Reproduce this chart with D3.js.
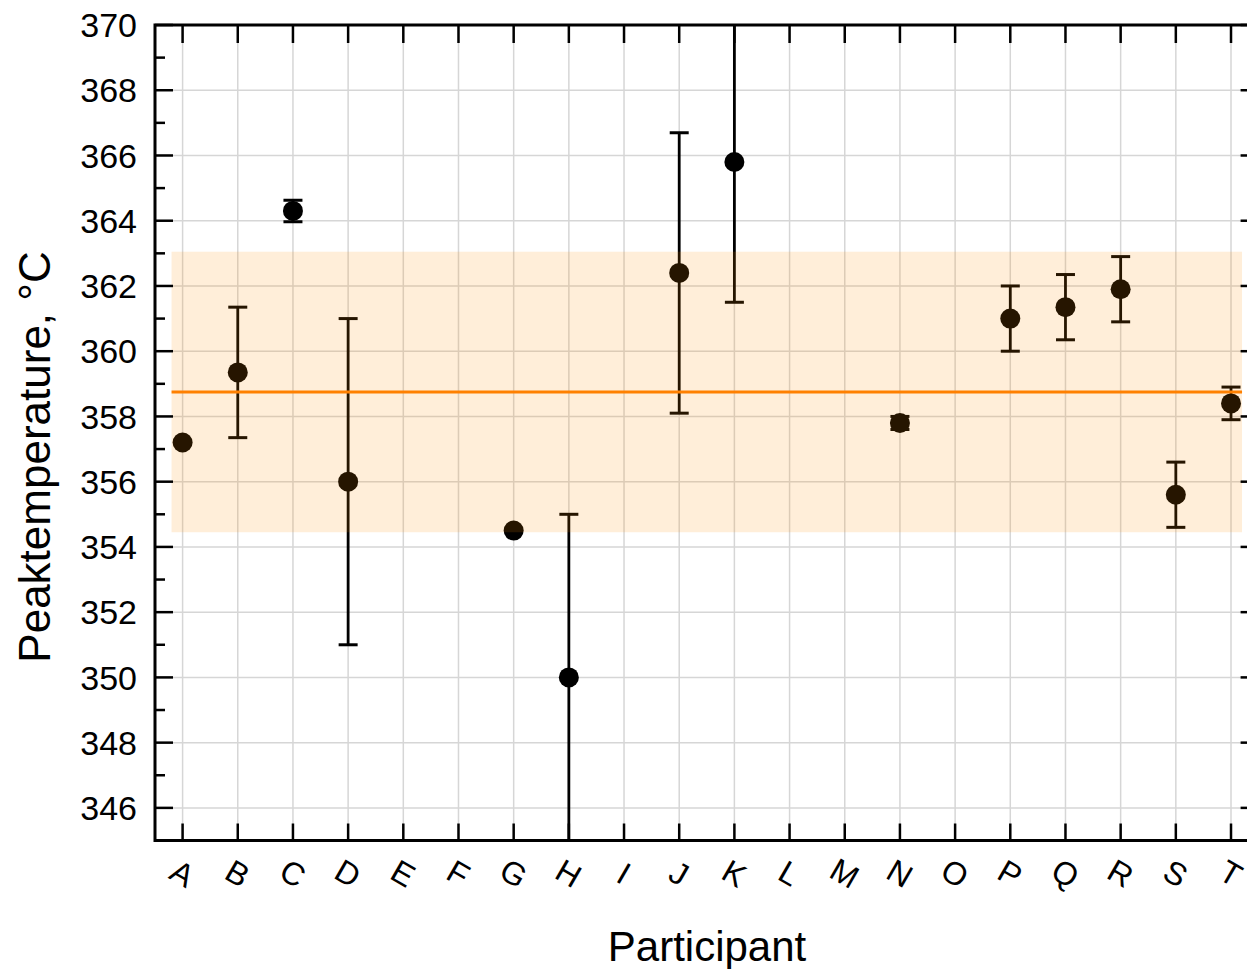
<!DOCTYPE html>
<html>
<head>
<meta charset="utf-8">
<script src="https://cdn.jsdelivr.net/npm/d3@7"></script>
<style>
  body { margin: 0; background: #fff; }
  text { font-family: Arial, "Liberation Sans", sans-serif; fill: #000; }
</style>
</head>
<body>
<div id="chart"></div>
<script>
// participants and their peak temperatures (°C) with error
var participants = ["A","B","C","D","E","F","G","H","I","J","K","L","M","N","O","P","Q","R","S","T"]
var peakValues  = [357.2, 359.35, 364.3, 356.0, null, null, 354.5, 350.0, null, 362.4, 365.8, null, null, 357.8, null, 361.0, 361.35, 361.9, 355.6, 358.4]
var peakErrors  = [0, 2.0, 0.33, 5.0, null, null, 0, 5.0, null, 4.3, 4.3, null, null, 0.2, null, 1.0, 1.0, 1.0, 1.0, 0.5]
var yMajorTicks = [346, 348, 350, 352, 354, 356, 358, 360, 362, 364, 366, 368, 370]
var yMinorTicks = [345, 347, 349, 351, 353, 355, 357, 359, 361, 363, 365, 367, 369]
var meanValue = 358.75
var bandLow = 354.45
var bandHigh = 363.05

var width = 1247
var height = 969
var plotLeft = 155, plotRight = 1258.6, plotTop = 25, plotBottom = 840.5

var data = participants.map(function(p, i){
  return { name: p, value: peakValues[i], err: peakErrors[i] }
}).filter(d => d.value != null)

var svg = d3.select("#chart")
  .append("svg")
    .attr("width", width)
    .attr("height", height)

var x = d3.scalePoint()
  .domain(participants)
  .range([plotLeft, plotRight])
  .padding(0.5)

var y = d3.scaleLinear()
  .domain([345, 370])
  .range([plotBottom, plotTop])

svg.append("clipPath").attr("id", "plotclip")
  .append("rect")
    .attr("x", plotLeft).attr("y", plotTop)
    .attr("width", plotRight - plotLeft).attr("height", plotBottom - plotTop)

// grid
var grid = svg.append("g")
grid.selectAll("vgrid")
  .data(participants)
  .enter().append("line")
    .attr("x1", d => x(d)).attr("x2", d => x(d))
    .attr("y1", plotTop).attr("y2", plotBottom)
    .attr("stroke", "#d6d6d6").attr("stroke-width", 1.5)
grid.selectAll("hgrid")
  .data(yMajorTicks.filter(v => v < 370))
  .enter().append("line")
    .attr("x1", plotLeft).attr("x2", plotRight)
    .attr("y1", d => y(d)).attr("y2", d => y(d))
    .attr("stroke", "#d6d6d6").attr("stroke-width", 1.5)

// error bars and points
var plot = svg.append("g").attr("clip-path", "url(#plotclip)")
var withErr = data.filter(d => d.err > 0)
plot.selectAll("stem")
  .data(withErr)
  .enter().append("line")
    .attr("x1", d => x(d.name)).attr("x2", d => x(d.name))
    .attr("y1", d => y(d.value + d.err)).attr("y2", d => y(d.value - d.err))
    .attr("stroke", "#000").attr("stroke-width", 2.8)
plot.selectAll("capTop")
  .data(withErr)
  .enter().append("line")
    .attr("x1", d => x(d.name) - 9.5).attr("x2", d => x(d.name) + 9.5)
    .attr("y1", d => y(d.value + d.err)).attr("y2", d => y(d.value + d.err))
    .attr("stroke", "#000").attr("stroke-width", 3)
plot.selectAll("capBottom")
  .data(withErr)
  .enter().append("line")
    .attr("x1", d => x(d.name) - 9.5).attr("x2", d => x(d.name) + 9.5)
    .attr("y1", d => y(d.value - d.err)).attr("y2", d => y(d.value - d.err))
    .attr("stroke", "#000").attr("stroke-width", 3)
plot.selectAll("dot")
  .data(data)
  .enter().append("circle")
    .attr("cx", d => x(d.name))
    .attr("cy", d => y(d.value))
    .attr("r", 10)
    .attr("fill", "#000")

// shaded band and mean line
var step = x.step()
svg.append("rect")
  .attr("x", x("A") - 0.2 * step)
  .attr("width", x("T") - x("A") + 0.4 * step)
  .attr("y", y(bandHigh))
  .attr("height", y(bandLow) - y(bandHigh))
  .attr("fill", "#ff8c00")
  .attr("fill-opacity", 0.15)
svg.append("line")
  .attr("x1", x("A") - 0.2 * step).attr("x2", x("T") + 0.2 * step)
  .attr("y1", y(meanValue)).attr("y2", y(meanValue))
  .attr("stroke", "#ff8000").attr("stroke-width", 3.2)

// axes frame
var axes = svg.append("g").attr("stroke", "#000")
axes.append("rect")
  .attr("x", plotLeft).attr("y", plotTop)
  .attr("width", plotRight - plotLeft).attr("height", plotBottom - plotTop)
  .attr("fill", "none").attr("stroke-width", 3)

axes.selectAll("ytickL")
  .data(yMajorTicks)
  .enter().append("line")
    .attr("x1", plotLeft).attr("x2", plotLeft + 18)
    .attr("y1", d => y(d)).attr("y2", d => y(d))
    .attr("stroke-width", 2.5)
axes.selectAll("ytickLm")
  .data(yMinorTicks)
  .enter().append("line")
    .attr("x1", plotLeft).attr("x2", plotLeft + 10)
    .attr("y1", d => y(d)).attr("y2", d => y(d))
    .attr("stroke-width", 2.5)
axes.selectAll("ytickR")
  .data(yMajorTicks)
  .enter().append("line")
    .attr("x1", plotRight).attr("x2", plotRight - 18)
    .attr("y1", d => y(d)).attr("y2", d => y(d))
    .attr("stroke-width", 2.5)
axes.selectAll("xtickB")
  .data(participants)
  .enter().append("line")
    .attr("x1", d => x(d)).attr("x2", d => x(d))
    .attr("y1", plotBottom).attr("y2", plotBottom - 17)
    .attr("stroke-width", 2.5)
axes.selectAll("xtickT")
  .data(participants)
  .enter().append("line")
    .attr("x1", d => x(d)).attr("x2", d => x(d))
    .attr("y1", plotTop).attr("y2", plotTop + 18)
    .attr("stroke-width", 2.5)

// tick labels
svg.selectAll("ylabel")
  .data(yMajorTicks)
  .enter().append("text")
    .attr("x", plotLeft - 18)
    .attr("y", d => y(d))
    .attr("dy", "0.36em")
    .attr("text-anchor", "end")
    .style("font-size", "34px")
    .text(d => d)

svg.selectAll("xlabel")
  .data(participants)
  .enter().append("text")
    .attr("transform", d => "translate(" + x(d) + ",873) rotate(30)")
    .attr("dy", "0.36em")
    .attr("text-anchor", "middle")
    .style("font-size", "32px")
    .text(d => d)

// axis titles
svg.append("text")
  .attr("x", 707)
  .attr("y", 961)
  .attr("text-anchor", "middle")
  .style("font-size", "42px")
  .text("Participant")

svg.append("text")
  .attr("transform", "translate(50,457) rotate(-90)")
  .attr("text-anchor", "middle")
  .style("font-size", "44px")
  .text("Peaktemperature, °C")
</script>
</body>
</html>
